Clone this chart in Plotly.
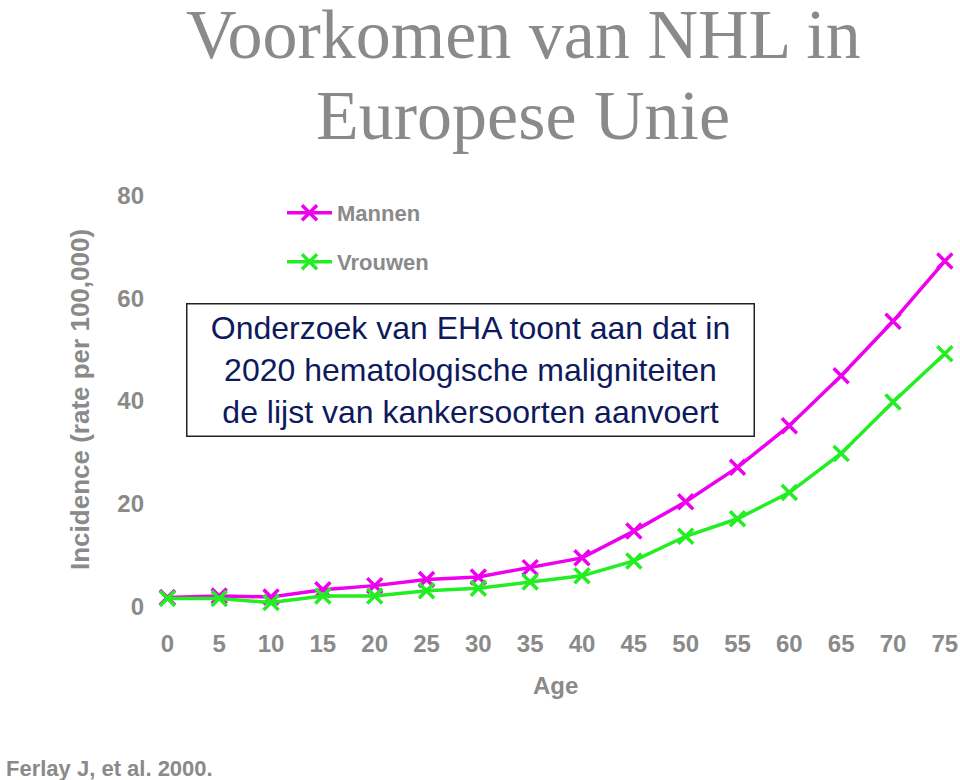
import plotly.graph_objects as go

ages = [0, 5, 10, 15, 20, 25, 30, 35, 40, 45, 50, 55, 60, 65, 70, 75]
mannen = [1.8, 2.1, 1.9, 3.3, 4.1, 5.3, 5.8, 7.6, 9.5, 14.7, 20.4, 27.1, 35.2, 44.9, 55.5, 67.2]
vrouwen = [1.6, 1.6, 0.8, 2.1, 2.1, 3.1, 3.6, 4.8, 6.0, 8.9, 13.7, 17.1, 22.2, 29.8, 39.8, 49.2]
y_ticks = [0, 20, 40, 60, 80]
x_ticks = ages

W, H = 960, 780
ML, MR, MT, MB = 157, 10, 185, 163
PW, PH = W - ML - MR, H - MT - MB

def px_x(X):
    return (X - ML) / PW

def px_y(Y):
    return (H - MB - Y) / PH

GRAY = "#8a8a8a"
MAG = "#ee00ee"
GRN = "#22ee22"
SANS = "Liberation Sans, Arial, sans-serif"
SERIF = "Liberation Serif, Times New Roman, serif"

fig = go.Figure()
fig.add_trace(go.Scatter(
    x=ages, y=mannen, name="<b>Mannen</b>", mode="lines+markers",
    line=dict(color=MAG, width=3.5),
    marker=dict(symbol="x-thin", size=15, line=dict(color=MAG, width=3.5)),
    cliponaxis=False, legend="legend"))
fig.add_trace(go.Scatter(
    x=ages, y=vrouwen, name="<b>Vrouwen</b>", mode="lines+markers",
    line=dict(color=GRN, width=3.5),
    marker=dict(symbol="x-thin", size=15, line=dict(color=GRN, width=3.5)),
    cliponaxis=False, legend="legend2"))

leg_common = dict(font=dict(family=SANS, size=22, color=GRAY), bgcolor="rgba(0,0,0,0)",
                  xanchor="left", yanchor="middle", itemwidth=45)
fig.update_layout(
    legend=dict(x=px_x(282), y=px_y(213), **leg_common),
    legend2=dict(x=px_x(282), y=px_y(262), **leg_common),
)

fig.update_xaxes(range=[-1, 75.5], tickvals=x_ticks, ticktext=[f"<b>{v}</b>" for v in x_ticks],
                 showgrid=False, zeroline=False, showline=False,
                 tickfont=dict(family=SANS, size=24, color=GRAY),
                 ticklabelstandoff=10)
fig.update_yaxes(range=[-2, 82], tickvals=y_ticks, ticktext=[f"<b>{v}</b>" for v in y_ticks],
                 showgrid=False, zeroline=False, showline=False,
                 tickfont=dict(family=SANS, size=24, color=GRAY),
                 ticklabelstandoff=12)

annotations = [
    dict(text="Voorkomen van NHL in", x=px_x(523), y=px_y(35), xref="paper", yref="paper",
         showarrow=False, xanchor="center", yanchor="middle",
         font=dict(family=SERIF, size=70, color=GRAY)),
    dict(text="Europese Unie", x=px_x(523), y=px_y(116), xref="paper", yref="paper",
         showarrow=False, xanchor="center", yanchor="middle",
         font=dict(family=SERIF, size=70, color=GRAY)),
    dict(text="<b>Incidence (rate per 100,000)</b>", x=px_x(80), y=px_y(400),
         xref="paper", yref="paper", showarrow=False, textangle=-90,
         xanchor="center", yanchor="middle",
         font=dict(family=SANS, size=26, color=GRAY)),
    dict(text="<b>Age</b>", x=px_x(555), y=px_y(685), xref="paper", yref="paper",
         showarrow=False, xanchor="center", yanchor="middle",
         font=dict(family=SANS, size=24, color=GRAY)),
    dict(text="<b>Ferlay J, et al. 2000.</b>", x=px_x(4), y=px_y(768), xref="paper", yref="paper",
         showarrow=False, xanchor="left", yanchor="middle",
         font=dict(family=SANS, size=22, color=GRAY)),
    dict(text="Onderzoek van EHA toont aan dat in<br>2020 hematologische maligniteiten<br>de lijst van kankersoorten aanvoert",
         x=px_x(470), y=px_y(369.5), xref="paper", yref="paper", showarrow=False,
         xanchor="center", yanchor="middle", align="center",
         width=562, height=127, borderpad=2, bordercolor="#222222", borderwidth=1.5,
         bgcolor="white",
         font=dict(family=SANS, size=32, color="#0e1a5c")),
]

fig.update_layout(
    width=W, height=H,
    margin=dict(l=ML, r=MR, t=MT, b=MB, autoexpand=False),
    paper_bgcolor="white", plot_bgcolor="white",
    annotations=annotations,
    showlegend=True,
)

fig.write_html("out.html")
